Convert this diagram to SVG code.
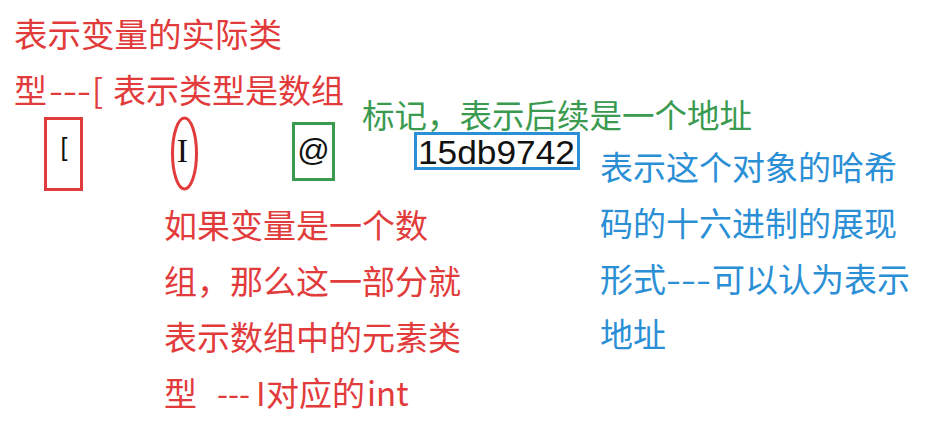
<svg xmlns="http://www.w3.org/2000/svg" width="936" height="429" viewBox="0 0 936 429">
<style>
.t{font-family:"Noto Sans CJK SC","Noto Sans",sans-serif;font-size:33px}
.r{fill:#e23b3b}
.g{fill:#3a9a50}
.b{fill:#2b8fd6}
.k{fill:#111;font-family:"Liberation Sans",sans-serif}
</style>
<rect width="936" height="429" fill="#fff"/>
<g id="note-type">
<text class="t r" x="14" y="47" style="font-size:33.5px">表示变量的实际类</text>
<text class="t r" x="14" y="103">型<tspan x="49" textLength="42" lengthAdjust="spacingAndGlyphs">---</tspan><tspan x="92">[</tspan><tspan x="113">表示类型是数组</tspan></text>
</g>
<g id="node-bracket">
<rect x="45.5" y="118.5" width="36" height="71" fill="none" stroke="#e23b3b" stroke-width="3"/>
<text class="k" x="64" y="156" font-size="25" text-anchor="middle">[</text>
</g>
<g id="node-I">
<ellipse cx="184.5" cy="153.5" rx="12" ry="35.5" fill="none" stroke="#e23b3b" stroke-width="3"/>
<text x="182.5" y="162" font-size="34" text-anchor="middle" fill="#111" font-family="Liberation Serif,serif">I</text>
</g>
<g id="node-at">
<rect x="293.5" y="123.5" width="40" height="56" fill="none" stroke="#3a9a50" stroke-width="3"/>
<text class="k" x="313.5" y="161" font-size="32" text-anchor="middle">@</text>
</g>
<g id="note-at">
<text class="t g" x="362" y="128" style="font-size:32.5px">标记，表示后续是一个地址</text>
</g>
<g id="node-hash">
<rect x="415.5" y="133.5" width="163" height="35" fill="none" stroke="#2b8fd6" stroke-width="3"/>
<text class="k" x="418" y="164" font-size="33" textLength="157" lengthAdjust="spacingAndGlyphs">15db9742</text>
</g>
<g id="note-hash">
<text class="t b" x="600" y="180">表示这个对象的哈希</text>
<text class="t b" x="600" y="236">码的十六进制的展现</text>
<text class="t b" x="600" y="292">形式<tspan x="666" textLength="45" lengthAdjust="spacingAndGlyphs">---</tspan><tspan x="712">可以认为表示</tspan></text>
<text class="t b" x="600" y="347">地址</text>
</g>
<g id="note-element">
<text class="t r" x="164" y="238">如果变量是一个数</text>
<text class="t r" x="164" y="294">组，那么这一部分就</text>
<text class="t r" x="164" y="350">表示数组中的元素类</text>
<text class="t r" x="164" y="406">型<tspan x="217" textLength="33" lengthAdjust="spacingAndGlyphs">---</tspan><tspan x="256">I</tspan><tspan x="266">对应的</tspan><tspan x="367">int</tspan></text>
</g>
<g id="connectors"></g>
</svg>
